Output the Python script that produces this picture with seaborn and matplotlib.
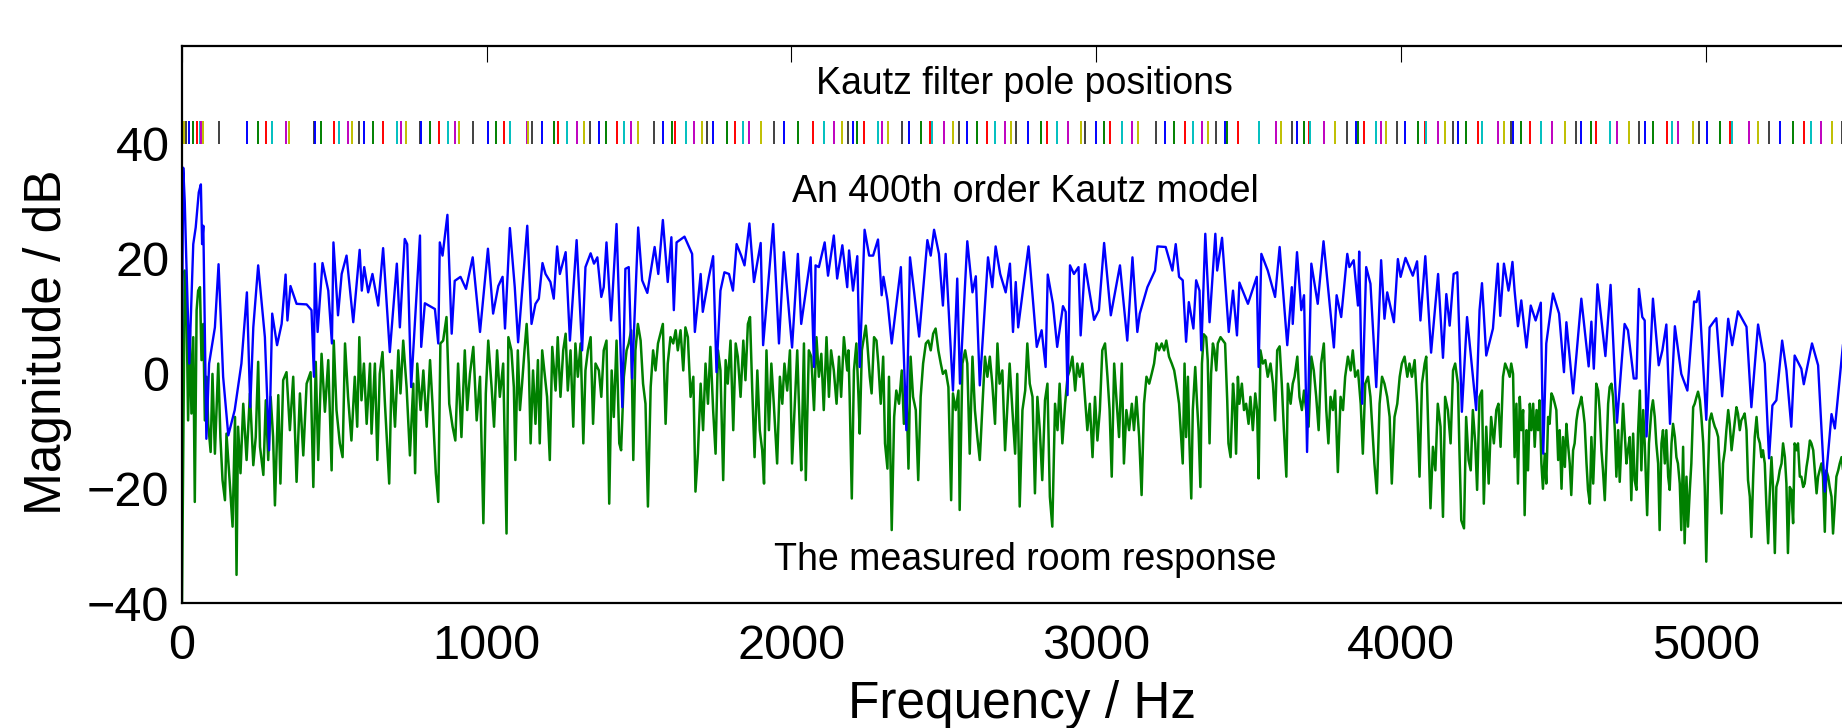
import itertools
import matplotlib
matplotlib.use("Agg")
import matplotlib.pyplot as plt
import seaborn as sns

# Kautz model magnitude (blue): (Hz, dB)
model_pts = [
    (0, 6), (4, 35.8), (9, 30), (14, 20), (24, 1.7), (37, 22.5), (45, 25.4), (55, 31.5), (62, 32.9), (66, 22.5),
    (70, 25.7), (80, -11.4), (89, 1.7), (108, 8), (120, 19), (135, -0.6), (152, -10.8), (173, -6.4), (195, 1.7),
    (213, 14.1), (224, -5.9), (234, 8), (250, 18.8), (272, 6.3), (286, -13.4), (296, 10.4), (312, 4.9), (327, 8.6),
    (340, 17.2), (346, 9.2), (356, 15.2), (376, 12.1), (409, 12.0), (425, 11.0), (433, -0.6), (436, 19.1), (445, 7.2),
    (461, 19.2), (480, 14.4), (492, 5.2), (497, 22.8), (512, 10.1), (524, 17.3), (540, 20.5), (562, 8.9), (583, 21.5),
    (590, 14.4), (598, 18.5), (611, 14.1), (625, 17.3), (644, 11.8), (660, 21.8), (682, 3.7), (705, 19.1), (715, 8.0),
    (731, 23.4), (739, 22.5), (752, -2.4), (781, 24.0), (785, 4.6), (797, 12.2), (830, 11.2), (841, 5.2), (846, 22.8),
    (855, 20.5), (871, 27.6), (885, 6.9), (895, 16.1), (906, 16.5), (914, 16.8), (932, 14.7), (954, 20.2), (978, 7.2),
    (1004, 21.7), (1021, 10.4), (1038, 15.2), (1052, 16.8), (1060, 7.8), (1076, 25.3), (1092, 15),
    (1103, 5.4), (1133, 25.7), (1147, 8.6), (1160, 12.1), (1171, 13.0), (1183, 19.2), (1193, 17.3), (1209, 15.9),
    (1220, 13.0), (1231, 22.1), (1240, 17.3), (1259, 21.1), (1273, 5.7), (1295, 23.2), (1313, 4.0), (1324, 18.5),
    (1341, 20.9), (1352, 19.1), (1363, 20.2), (1376, 13.3), (1384, 15.0), (1393, 22.8), (1408, 9.2), (1426, 26.0),
    (1445, -5.9), (1455, 18.2), (1466, 18.5), (1477, -0.9), (1497, 25.4), (1510, 16.2), (1527, 14.0), (1551, 22.0),
    (1563, 17.3), (1578, 26.7), (1594, 15.9), (1606, 23.7), (1614, 11.0), (1623, 22.8), (1649, 23.8), (1674, 20.8),
    (1683, 7.2), (1702, 17.3), (1709, 10.7), (1729, 16.8), (1743, 20.4), (1754, 0.2), (1767, 14.4), (1780, 17.6),
    (1795, 17.3), (1808, 14.4), (1820, 22.5), (1835, 20.5), (1846, 18.8), (1862, 26.1), (1877, 15.9), (1899, 22.7),
    (1907, 4.9), (1940, 26.0), (1959, 5.2), (1975, 21.1), (2002, 4.5), (2021, 20.8), (2032, 8.6), (2063, 20.2),
    (2074, 1.1), (2079, 18.8), (2090, 18.5), (2109, 22.8), (2120, 17.0), (2139, 24.0), (2150, 16.5), (2167, 22.3),
    (2183, 15.0),
    (2189, 21.4), (2202, 14.4), (2216, 20.4), (2224, 1.1), (2240, 25.0), (2255, 20.5), (2268, 20.5), (2284, 23.3),
    (2296, 13.6), (2302, 16.8), (2315, 12.7), (2329, 5.2), (2359, 18.5), (2377, -9.9), (2389, 20.2), (2402, 14.4),
    (2419, 6.4), (2446, 23.2), (2457, 20.5), (2468, 25.0), (2484, 20.8), (2497, 11.8), (2506, 20.8), (2530, -3.0),
    (2544, 16.5), (2553, -1.8), (2577, 23.0), (2594, 14.1), (2605, 16.9), (2618, -2.1), (2645, 20.2), (2659, 15.0),
    (2670, 22.1), (2685, 17.3), (2703, 14.1), (2717, 19.1), (2727, 7.2), (2736, 15.9), (2744, 8.0), (2778, 22.1),
    (2805, 4.6), (2821, 7.5), (2834, 1.1), (2841, 17.2), (2858, 12.1), (2872, 4.6), (2891, 11.7), (2900, 10.7),
    (2906, -3.8), (2914, 18.8), (2927, 17.3), (2942, 18.5), (2949, 6.6), (2963, 19.0), (2993, 9.3), (3009, 11.0),
    (3026, 22.7), (3048, 10.1), (3078, 18.8), (3102, 5.7), (3119, 20.2), (3135, 7.2), (3143, 10.4), (3168, 15.0),
    (3193, 17.9), (3201, 22.1), (3228, 22.0), (3250, 17.9), (3261, 22.5), (3272, 16.8),
    (3284, 16.2), (3295, 5.5), (3304, 12.4), (3319, 7.8), (3328, 16.2), (3339, 14.4), (3345, 4.0), (3358, 24.3),
    (3372, 8.9), (3391, 24.3), (3397, 17.9), (3413, 23.6), (3435, 7.2), (3449, 14.4), (3462, 6.6), (3470, 15.8),
    (3498, 12.1), (3527, 16.8), (3533, 1.1), (3542, 20.8), (3563, 17.9), (3587, 13.3), (3602, 22.0), (3627, 4.9),
    (3642, 15.0), (3645, 8.6), (3659, 21.1), (3673, 11.0), (3682, 13.6), (3692, -13.7), (3706, 19.1), (3727, 12.1),
    (3746, 23.0), (3780, 4.5), (3789, 13.6), (3804, 9.8), (3824, 20.8), (3831, 18.5), (3845, 19.7), (3859, 11.8),
    (3863, 21.2), (3873, -5.3), (3886, 18.5), (3900, 15.6), (3919, -2.4), (3935, 19.7), (3946, 9.5), (3955, 14.1),
    (3977, 8.9), (3990, 19.9), (3999, 16.8), (4015, 20.1), (4039, 17.0), (4053, 19.5), (4064, 9.2), (4080, 20.4),
    (4099, 3.6), (4122, 17.3), (4138, 2.7), (4149, 13.8), (4160, 8.3), (4173, 17.3), (4185, 17.6), (4200, -6.7),
    (4217, 9.8), (4247, -6.4), (4258, 11.0), (4266, 15.7), (4280, 3.1), (4302, 7.8), (4318, 19.1), (4326, 10.0),
    (4338, 19.1), (4353, 14.4),
    (4357, 15.6), (4366, 19.4), (4373, 14.4), (4384, 8.2), (4395, 12.7), (4412, 4.5), (4426, 11.8), (4442, 9.2),
    (4459, 12.3), (4467, -14.0), (4477, 5.2), (4499, 13.9), (4519, 10.4), (4535, 0.2), (4543, 8.9), (4565, -3.5),
    (4592, 13.0), (4616, 1.2), (4625, 9.0), (4633, 0.8), (4645, 15.5), (4671, 3.0), (4688, 15.4), (4709, -8.6),
    (4734, 8.6), (4745, 7.5), (4764, -0.9), (4773, -0.9), (4781, 14.7), (4792, 9.8), (4800, 9.2), (4806, -11.0),
    (4827, 13.0), (4846, 1.4), (4858, 4.0), (4871, 8.5), (4883, -8.8), (4899, 8.2), (4920, -0.1), (4940, -3.0),
    (4962, 12.5), (4970, 12.4), (4978, 14.3), (5002, -8.1), (5013, 8.0), (5035, 9.6), (5054, -4.0), (5074, 9.5),
    (5087, 4.9), (5106, 10.8), (5134, 8.1), (5150, -5.9), (5172, 8.5), (5194, 1.7), (5208, -14.8), (5219, -5.6),
    (5232, -4.7), (5251, 5.7), (5265, 0.5), (5281, -9.3), (5292, 3.1), (5314, 0.8), (5322, -1.9), (5349, 5.2),
    (5369, 1.4), (5391, -20.6), (5413, -7.1), (5424, -9.6), (5451, 5.2),
]

measured_pts = [
    (0, -40), (9, 17.9), (15, 11.5), (20, -8.2), (26, 7.5), (31, -7.0), (37, 6.3), (42, -22.4), (48, 11.0), (53, 14.4),
    (59, 15.0), (64, 2.3), (70, 8.6), (75, -8.2), (81, -0.6), (86, -8.8), (94, -13.7), (100, -0.1), (108, -14.0),
    (119, 1.7), (126, -11.1), (133, -18.6), (141, -22.1), (146, -10.5), (157, -19.2), (166, -26.7), (174, -7.6),
    (179, -35.1), (184, -9.3), (192, -17.4), (201, -5.3), (212, -15.1), (223, -3.5), (234, -16.0), (242, -11.1),
    (250, 2.0), (256, -12.8), (267, -17.7), (275, -4.7), (283, -15.1), (291, -4.1), (299, -11.1), (305, -23.0),
    (316, -3.8), (323, -19.2), (332, -1.2), (343, 0.2), (354, -9.9), (365, -0.6), (376, -18.9), (387, -3.5),
    (398, -14.3), (409, -1.8), (422, 0.2), (431, -19.8), (439, 2.0), (447, -15.1), (458, 3.4), (469, -6.7), (480, 2.3),
    (491, -16.9), (498, 5.7), (507, -6.4), (518, -12.2), (527, -14.6), (535, 5.2), (545, -4.1), (556, -11.7),
    (567, -0.6), (575, -9.3), (582, 6.3), (589, -4.7), (597, 1.7), (606, -8.8), (617, 1.7), (622, -10.5), (633, 1.7),
    (641, -15.1), (649, -0.1), (658, 3.7), (666, -5.3), (680, -19.2), (688, 0.5), (699, -9.3), (710, 4.0), (717, -3.5),
    (726, 5.7), (737, -2.4), (748, -14.3), (759, -1.8), (765, -17.4), (772, 1.7), (783, -6.4), (792, 0.5), (803, -9.3),
    (814, 2.3), (822, -5.3), (833, -17.4), (841, -22.4), (848, 5.2), (857, 5.7), (868, 9.8), (877, -5.3), (888, -9.3),
    (897, -11.7), (906, 1.7), (917, -11.1), (928, 4.0), (936, -6.4), (945, -0.1), (956, 4.6), (967, -8.2), (978, -0.6),
    (989, -26.1), (997, -3.5), (1005, 5.7), (1016, -2.4), (1024, -9.3), (1034, 4.0), (1043, -4.1), (1054, 1.7),
    (1065, -27.9), (1071, 6.3), (1081, 4.0), (1089, -2.4),
    (1094, -15.1), (1102, 4.0), (1109, -6.4), (1116, -1.8), (1124, 4.0), (1131, 8.6), (1138, 1.7), (1144, -12.2),
    (1152, 0.5), (1160, -8.8), (1168, 2.3), (1174, -12.2), (1182, 4.0), (1198, -4.1), (1207, -15.1), (1215, 4.6),
    (1226, -3.0), (1233, 6.3), (1242, -4.1), (1251, 4.0), (1259, 6.9), (1266, -3.0), (1275, 4.0), (1284, -9.3),
    (1291, 5.2), (1299, -0.6), (1308, 5.2), (1317, -12.2), (1324, 0.5), (1332, 4.0), (1341, 6.3), (1349, -8.8),
    (1357, 1.7), (1368, 0.5), (1376, -4.1), (1384, 4.0), (1393, 5.7), (1402, -22.7), (1410, 0.5), (1417, -7.6),
    (1426, 5.7), (1435, -12.2), (1441, -13.4), (1450, -0.6), (1459, 4.0), (1466, 5.2), (1474, 7.5), (1481, -15.1),
    (1488, 4.0), (1496, 8.6), (1505, 5.7), (1513, -1.8), (1521, -5.3), (1529, -23.2), (1538, -2.4), (1546, 4.0),
    (1554, 0.5), (1562, 5.2), (1578, 8.6), (1587, -8.8), (1594, 1.7), (1603, 6.3), (1612, 5.2), (1620, 7.5),
    (1627, 4.0), (1636, 7.5), (1645, 0.5), (1652, 8.0), (1660, 6.3), (1669, -4.1), (1678, -0.6), (1685, -20.6),
    (1693, -14.0), (1702, -1.8), (1710, -9.9), (1718, 1.7), (1726, -5.3), (1734, 4.6), (1743, -6.4), (1751, -14.0),
    (1759, 4.0), (1767, 0.5), (1776, -18.6), (1784, 2.3), (1791, -1.8), (1800, 5.7), (1809, -9.9), (1817, 5.2),
    (1824, 2.9), (1833, -4.1), (1842, 5.7), (1849, -1.2), (1857, 8.6), (1864, 9.8), (1871, -2.4), (1879, -14.6),
    (1888, 0.5), (1896, -9.9), (1904, -13.4), (1910, -19.2), (1918, 4.0), (1926, -9.9), (1934, 1.7), (1942, -5.3),
    (1953, -15.7), (1962, -0.6), (1970, -5.3), (1977, 1.7), (1986, -3.0), (1995, 4.0), (2002, -15.7), (2010, -6.4),
    (2019, 4.0), (2028, -11.1), (2032, -16.9), (2041, 5.2), (2047, -18.6), (2057, 4.0), (2065, 2.9), (2074, -6.4),
    (2082, 6.3), (2090, -0.6), (2098, 3.4), (2106, -6.4), (2115, 6.3), (2123, -4.1), (2130, 4.0), (2139, 0.5),
    (2148, -5.3), (2156, 2.9), (2163, -4.1), (2172, 6.3), (2183, 0.5),
    (2187, 4.0), (2191, -4.1), (2198, -21.8), (2205, 0.5), (2213, 5.2), (2220, -4.1), (2224, -10.5), (2231, 4.0),
    (2238, 6.3), (2244, 8.3), (2249, 5.2), (2257, -0.6), (2263, -3.5), (2271, 6.3), (2279, 5.7), (2285, 1.7),
    (2293, -5.3), (2301, 2.9), (2307, -12.2), (2315, -16.6), (2320, -0.6), (2329, -27.3), (2337, -7.6), (2344, -3.0),
    (2353, -5.3), (2362, 0.5), (2369, -8.8), (2377, -2.4), (2384, -16.6), (2391, 2.9), (2399, -4.1), (2408, -6.4),
    (2416, -18.6), (2424, -4.1), (2432, 1.7), (2441, 5.2), (2449, 5.7), (2457, 4.0), (2465, 6.9), (2473, 7.8),
    (2482, 4.0), (2490, 1.7), (2497, -0.1), (2506, 0.5), (2515, -2.4), (2524, -22.1), (2530, -3.5), (2539, -6.4),
    (2548, -3.0), (2552, -23.8), (2561, 1.7), (2570, 4.0), (2577, 1.7), (2585, -14.0), (2594, 2.9), (2602, -6.4),
    (2610, -11.1), (2618, -15.1), (2627, -5.3), (2635, 2.9), (2643, -0.6), (2651, 2.9), (2659, -1.8), (2668, -8.8),
    (2676, 5.2), (2683, -1.8), (2692, 0.5), (2701, -13.4), (2709, -5.3), (2716, 1.7), (2725, -6.4), (2734, -14.0),
    (2741, -0.1), (2749, -23.2), (2758, -6.4), (2767, -3.0), (2774, 5.2), (2782, -1.8), (2791, -4.1), (2799, -20.9),
    (2807, -4.1), (2815, -9.9), (2823, -18.6), (2832, -4.7), (2840, -1.8), (2848, -21.5), (2856, -26.7), (2865, -5.3),
    (2873, -9.9), (2880, -1.8), (2889, -12.2), (2898, -5.3), (2906, -0.6), (2913, 0.5), (2922, 2.9), (2931, -3.0),
    (2938, 1.7), (2946, -0.6), (2955, 1.7), (2963, -4.1), (2971, -9.9), (2979, -5.3), (2988, -14.6), (2996, -4.1),
    (3004, -11.7), (3012, -6.4), (3020, 4.0), (3029, 5.2), (3037, -0.6), (3044, -6.4), (3051, -18.0), (3059, 1.7),
    (3066, -4.1), (3075, -11.1), (3084, 1.7), (3091, -15.7), (3099, -6.4), (3108, -9.9), (3117, -5.3), (3124, -9.9),
    (3132, -4.1), (3141, -11.1), (3149, -21.2), (3157, -5.3), (3165, -0.6), (3174, -1.8), (3182, -0.1), (3190, 1.7),
    (3198, 5.2), (3206, 4.0), (3215, 5.2), (3223, 4.0), (3230, 5.7), (3239, 2.9), (3248, 1.7), (3256, 0.5),
    (3263, -1.8), (3272, -5.3),
    (3284, -15.7), (3290, 1.7), (3295, -11.1), (3301, -0.6), (3306, -12.2), (3312, -21.8), (3317, -6.4), (3325, 1.1),
    (3331, -5.3), (3336, -9.9), (3342, -19.8), (3347, 1.7), (3353, 6.8), (3361, 6.3), (3366, 2.3), (3372, -12.2),
    (3377, -0.1), (3383, 5.2), (3388, 4.0), (3394, 0.5), (3399, 5.2), (3408, 6.3), (3416, 5.7), (3423, 5.2),
    (3430, -4.7), (3434, -12.2), (3441, -14.6), (3449, -1.8), (3454, -5.3), (3459, -14.0), (3465, -0.6), (3470, -5.3),
    (3478, -1.8), (3485, -6.4), (3492, -5.3), (3500, -8.8), (3506, -4.1), (3514, -9.9), (3522, -3.5), (3528, -6.4),
    (3533, -18.3), (3539, 4.0), (3547, 1.7), (3555, 2.3), (3563, -0.6), (3572, 1.7), (3580, -1.8), (3587, -8.2),
    (3594, 4.0), (3602, 4.7), (3609, -1.8), (3616, -9.9), (3624, -18.0), (3629, -1.8), (3638, -5.3), (3645, -1.8),
    (3651, -0.6), (3660, 2.9), (3667, -4.1), (3675, -6.4), (3682, -3.0), (3689, -6.4), (3697, -9.3), (3706, 2.9),
    (3714, 0.5), (3722, -4.1), (3730, -9.9), (3738, 1.7), (3747, 5.2), (3755, -6.4), (3762, -12.2), (3769, -4.1),
    (3777, -6.4), (3784, -3.0), (3793, -17.2), (3802, -4.1), (3810, -6.4), (3817, -0.6), (3826, 2.9), (3835, 0.5),
    (3842, 4.0), (3850, -0.6), (3859, 0.5), (3868, -5.3), (3875, -14.0), (3883, -1.8), (3892, -0.6), (3900, -4.1),
    (3913, -15.7), (3921, -20.9), (3930, -5.3), (3938, -0.6), (3946, -1.8), (3955, -4.1), (3963, -7.6), (3970, -19.2),
    (3979, -7.6), (3988, -5.3), (3996, -0.6), (4003, 1.7), (4012, 2.9), (4021, -0.6), (4028, 1.7), (4036, -0.6),
    (4045, 2.3), (4053, -5.3), (4061, -18.0), (4069, -1.8), (4078, 1.7), (4083, 2.9), (4091, -12.2), (4097, -23.5),
    (4105, -12.8), (4113, -16.9), (4121, -5.3), (4130, -9.3), (4138, -25.0), (4145, -4.1), (4154, -6.4), (4163, -12.2),
    (4171, 0.5), (4178, 1.7), (4187, -1.8), (4192, -13.4), (4198, -25.6), (4207, -27.0), (4214, -7.6), (4222, -15.1),
    (4229, -16.9), (4236, -6.4), (4244, -12.2), (4250, -20.3), (4258, -4.1), (4266, -3.0), (4272, -22.7), (4280, -9.3),
    (4288, -19.2), (4296, -7.6), (4305, -12.2), (4313, -6.4), (4320, -5.3), (4327, -12.8), (4335, -0.6), (4342, 1.7),
    (4351, 0.5),
    (4357, -0.6), (4362, 1.7), (4368, -0.1), (4373, -14.6), (4379, -5.3), (4384, -19.2), (4390, -4.1), (4395, -9.9),
    (4401, -6.4), (4406, -24.7), (4412, -9.9), (4417, -16.9), (4423, -5.3), (4428, -9.9), (4434, -5.3), (4439, -12.8),
    (4445, -6.4), (4450, -9.9), (4455, -4.7), (4461, -15.7), (4466, -20.1), (4472, -14.0), (4477, -19.2), (4483, -7.6),
    (4488, -8.8), (4494, -3.5), (4499, -4.1), (4505, -5.3), (4510, -6.4), (4516, -15.1), (4521, -9.9), (4527, -20.1),
    (4532, -11.1), (4538, -16.3), (4543, -8.8), (4548, -12.2), (4554, -15.7), (4559, -21.2), (4565, -13.4),
    (4570, -12.2), (4576, -8.2), (4581, -6.4), (4587, -5.3), (4592, -4.1), (4598, -6.4), (4603, -8.8), (4609, -15.7),
    (4614, -20.3), (4620, -22.7), (4625, -11.1), (4631, -19.2), (4636, -12.2), (4641, -1.8), (4647, -3.0),
    (4652, -6.4), (4658, -13.4), (4663, -16.9), (4669, -22.1), (4674, -14.6), (4680, -5.3), (4685, -2.4),
    (4691, -1.8), (4696, -4.1), (4702, -9.9), (4707, -18.0), (4713, -9.9), (4718, -18.9), (4723, -12.8), (4729, -5.3),
    (4734, -9.9), (4740, -15.7), (4745, -13.4), (4751, -11.1), (4756, -22.1), (4762, -10.5), (4767, -18.6),
    (4773, -20.3), (4778, -10.5), (4784, -3.0), (4789, -16.9), (4795, -6.4), (4800, -12.2), (4808, -24.7),
    (4814, -12.2), (4822, -6.4), (4827, -4.7), (4833, -7.6), (4838, -12.2), (4844, -15.7), (4849, -27.3),
    (4855, -12.2), (4860, -9.9), (4866, -15.7), (4871, -9.9), (4877, -18.0), (4882, -20.3), (4888, -12.2),
    (4893, -8.8), (4899, -11.1), (4904, -14.6), (4909, -15.7), (4915, -19.2), (4920, -27.3), (4926, -12.8),
    (4931, -29.6), (4937, -18.0), (4942, -26.7), (4948, -20.3), (4953, -15.7), (4959, -5.9), (4964, -5.3),
    (4970, -4.1), (4975, -3.2), (4981, -4.7), (4986, -7.6), (4992, -12.2), (4997, -19.8), (5002, -32.8),
    (5008, -16.9), (5013, -8.2), (5019, -7.0), (5024, -8.2), (5030, -9.3), (5035, -9.9), (5041, -11.1), (5046, -16.9),
    (5052, -24.4), (5057, -15.7), (5063, -13.4), (5068, -9.9), (5074, -6.4), (5079, -8.8), (5085, -13.4),
    (5090, -11.1), (5095, -8.8), (5101, -5.9), (5106, -7.0), (5112, -9.9), (5117, -8.2), (5123, -7.6), (5128, -7.0),
    (5134, -9.9), (5139, -18.6), (5145, -21.5), (5150, -28.5), (5156, -18.0), (5161, -11.1), (5167, -7.6),
    (5172, -11.1), (5178, -12.2), (5183, -14.6), (5188, -13.4), (5194, -15.7), (5199, -22.7), (5205, -29.6),
    (5210, -21.5), (5216, -14.6), (5221, -19.8), (5227, -31.3), (5232, -19.8), (5238, -18.6), (5243, -16.9),
    (5249, -15.7), (5254, -12.2), (5260, -14.6), (5265, -19.2), (5270, -31.3), (5276, -19.8), (5281, -20.3),
    (5287, -26.1), (5292, -12.2), (5298, -13.4), (5303, -12.2), (5309, -18.0), (5314, -18.0), (5320, -19.8),
    (5325, -19.2), (5331, -16.3), (5336, -14.6), (5342, -11.7), (5347, -12.2), (5353, -13.4), (5358, -16.9),
    (5364, -20.9), (5369, -18.0), (5374, -16.9), (5380, -15.7), (5385, -18.0), (5391, -27.6), (5396, -16.9),
    (5402, -18.0), (5407, -19.8), (5413, -21.5), (5418, -27.9), (5424, -22.7), (5429, -18.0), (5435, -16.9),
    (5440, -15.7), (5446, -14.6), (5451, -16.9),
]

# Kautz pole frequencies / Hz
pole_freqs = [
    8, 13, 24, 37, 50, 59, 64, 70, 121, 214, 250, 277, 296, 341, 352, 433, 437, 456, 498, 515, 545, 557, 582, 597,
    628, 661, 704, 720, 735, 781, 784, 814, 844, 874, 897, 908, 954, 1003, 1032, 1056, 1076,
    1131, 1136, 1149, 1180, 1222, 1235, 1262, 1295, 1319, 1338, 1368, 1393, 1426, 1452, 1472, 1496, 1548, 1578,
    1609, 1617, 1655, 1680, 1705, 1724, 1743, 1787, 1816, 1841, 1862, 1899, 1942, 1975, 2021, 2070, 2106, 2139, 2167,
    2187, 2202, 2216, 2238, 2285, 2296, 2318, 2362, 2386, 2424, 2454, 2460, 2501, 2530, 2550, 2577, 2608, 2643, 2667,
    2700, 2722, 2736, 2776, 2818, 2838, 2873, 2909, 2949, 2963, 2999, 3026, 3044, 3084, 3117, 3137, 3195, 3225, 3256,
    3292, 3319, 3347, 3366, 3394, 3423, 3430, 3465, 3534, 3589, 3605, 3642, 3659, 3682, 3698, 3703, 3746, 3784, 3823,
    3851, 3859, 3878, 3919, 3933, 3950, 3987, 4012, 4056, 4080, 4083, 4121, 4146, 4171, 4187, 4215, 4253, 4266, 4318,
    4337, 4360, 4368, 4393, 4425, 4461, 4496, 4540, 4576, 4590, 4625, 4641, 4685, 4710, 4748, 4780, 4802, 4827, 4873,
    4890, 4909, 4959, 4978, 5005, 5046, 5079, 5088, 5141, 5172, 5207, 5245, 5285, 5322, 5347, 5378, 5413, 5448,
]

x_ticks = [0, 1000, 2000, 3000, 4000, 5000]
y_ticks = [-40, -20, 0, 20, 40]

sns.set_theme(style="white")
plt.rcParams["font.family"] = ["Liberation Sans", "DejaVu Sans"]
plt.rcParams["text.color"] = "black"

fig = plt.figure(figsize=(18.42, 7.28), dpi=100)
# the original frame runs a little past the right edge of the picture
ax = fig.add_axes([0.0988, 0.1717, 0.9099, 0.7651])

sns.lineplot(x=[p[0] for p in measured_pts], y=[p[1] for p in measured_pts], ax=ax,
             color=(0, 0.5, 0), linewidth=1.8, sort=False, estimator=None)
sns.lineplot(x=[p[0] for p in model_pts], y=[p[1] for p in model_pts], ax=ax,
             color=(0, 0, 1), linewidth=1.7, sort=False, estimator=None)

# matlab-style colour order for the pole markers
matlab_cols = [(0, 0, 1), (0, 0.5, 0), (1, 0, 0), (0, 0.75, 0.75), (0.75, 0, 0.75), (0.75, 0.75, 0), (0.25, 0.25, 0.25)]
cyc = itertools.islice(itertools.cycle(matlab_cols), 5, None)
pole_cols = [c for _, c in zip(pole_freqs, cyc)]
ax.vlines(pole_freqs, 40, 44, colors=pole_cols, linewidth=1.4)

ax.text(2766, 48.7, "Kautz filter pole positions", ha="center", va="baseline", fontsize=27, color="black")
ax.text(2766, 29.8, "An 400th order Kautz model", ha="center", va="baseline", fontsize=27, color="black")
ax.text(2766, -34.3, "The measured room response", ha="center", va="baseline", fontsize=27, color="black")

ax.set_xlim(0, 5500)
ax.set_ylim(-40, 57)
ax.set_xticks(x_ticks)
ax.set_yticks(y_ticks)
ax.tick_params(axis="both", direction="in", length=11.5, width=0.8, colors="black",
               top=True, right=True, labelsize=35)
ax.tick_params(axis="x", pad=15)
ax.tick_params(axis="y", pad=9)
for s in ax.spines.values():
    s.set_visible(True)
    s.set_color("black")
    s.set_linewidth(1.6)
ax.set_xlabel("")
ax.set_ylabel("")
ax.grid(False)

fig.text(1022 / 1842, 1 - 718 / 728, "Frequency / Hz", ha="center", va="baseline", fontsize=37, color="black")
fig.text(48 / 1842, 1 - 342 / 728, "Magnitude / dB", ha="center", va="center", rotation=90, fontsize=37,
         color="black")

fig.savefig("out.png", dpi=100, facecolor="white")
